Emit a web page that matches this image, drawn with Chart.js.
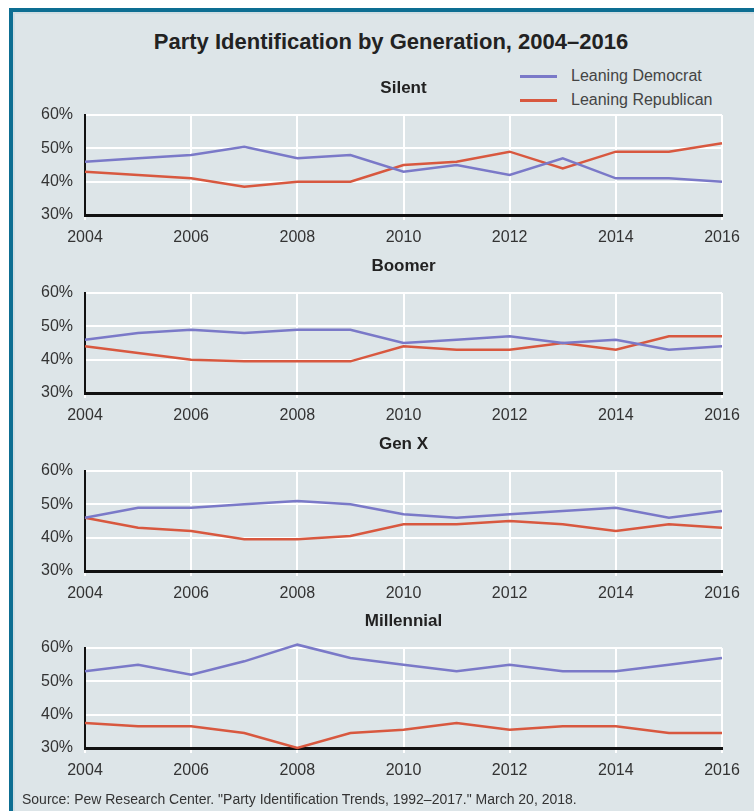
<!DOCTYPE html>
<html>
<head>
<meta charset="utf-8">
<script src="https://cdn.jsdelivr.net/npm/chart.js@4.4.1/dist/chart.umd.min.js"></script>
<style>
  body { margin: 0; width: 754px; height: 811px; background: #fff; position: relative; overflow: hidden;
         font-family: 'Liberation Sans', Arial, sans-serif; }
  #frame { position: absolute; left: 9px; top: 8px; width: 760px; height: 820px;
           border-top: 4px solid #0d6e92; border-left: 4px solid #0d6e92;
           background: #dde5e8; box-shadow: inset 2px 2px 0 #cfdde2; }
  canvas { position: absolute; left: 0; }
  #title { position: absolute; top: 29px; left: 25px; width: 732px; text-align: center;
           font-size: 22px; font-weight: bold; color: #222; }
  .leg { position: absolute; left: 520px; font-size: 16px; color: #444; }
  .leg span { display: inline-block; width: 37px; height: 3px; vertical-align: middle; margin-right: 14px; }
  #source { position: absolute; left: 22px; top: 791px; font-size: 14px; color: #333; }
</style>
</head>
<body>
<div id="frame"></div>
<div id="title">Party Identification by Generation, 2004–2016</div>
<div class="leg" style="top:67px"><span style="background:#7a79c8"></span>Leaning Democrat</div>
<div class="leg" style="top:91px"><span style="background:#d8583f"></span>Leaning Republican</div>
<canvas id="silent" width="754" height="190" style="top:70px"></canvas>
<canvas id="boomer" width="754" height="190" style="top:248px"></canvas>
<canvas id="genx" width="754" height="190" style="top:426px"></canvas>
<canvas id="millennial" width="754" height="190" style="top:603px"></canvas>
<div id="source">Source: Pew Research Center. "Party Identification Trends, 1992–2017." March 20, 2018.</div>
<script>
const years = [2004, 2005, 2006, 2007, 2008, 2009, 2010, 2011, 2012, 2013, 2014, 2015, 2016];

const silentDem = [46, 47, 48, 50.5, 47, 48, 43, 45, 42, 47, 41, 41, 40];
const silentRep = [43, 42, 41, 38.5, 40, 40, 45, 46, 49, 44, 49, 49, 51.5];

const boomerDem = [46, 48, 49, 48, 49, 49, 45, 46, 47, 45, 46, 43, 44];
const boomerRep = [44, 42, 40, 39.5, 39.5, 39.5, 44, 43, 43, 45, 43, 47, 47];

const genxDem = [46, 49, 49, 50, 51, 50, 47, 46, 47, 48, 49, 46, 48];
const genxRep = [46, 43, 42, 39.5, 39.5, 40.5, 44, 44, 45, 44, 42, 44, 43];

const millDem = [53, 55, 52, 56, 61, 57, 55, 53, 55, 53, 53, 55, 57];
const millRep = [37.5, 36.5, 36.5, 34.5, 30, 34.5, 35.5, 37.5, 35.5, 36.5, 36.5, 34.5, 34.5];

const yTicks = ['30%', '40%', '50%', '60%'];

const demColor = '#7a79c8';
const repColor = '#d8583f';

Chart.defaults.font.family = "'Liberation Sans', Arial, sans-serif";
Chart.defaults.color = '#333';

// pair the years with a series
const points = (vals) => vals.map((v, i) => ({ x: years[i], y: v }));

function createPanel(id, name, dem, rep) {
  new Chart(document.getElementById(id), {
    type: 'line',
    data: {
      datasets: [
        { label: 'Leaning Democrat', data: points(dem), borderColor: demColor },
        { label: 'Leaning Republican', data: points(rep), borderColor: repColor },
      ],
    },
    options: {
      responsive: false,
      animation: false,
      events: [],
      elements: {
        line: { borderWidth: 2.5, tension: 0 },
        point: { radius: 0 },
      },
      datasets: { line: { clip: false } },
      layout: { padding: { left: 0, right: 32, top: 0, bottom: 4.8 } },
      scales: {
        x: {
          type: 'linear',
          min: 2004,
          max: 2016,
          ticks: {
            stepSize: 2,
            padding: 8,
            maxRotation: 0,
            font: { size: 16 },
            color: '#333',
            callback: (v) => String(v),
          },
          grid: { color: '#fff', lineWidth: 2, tickLength: 5 },
          border: { color: '#111', width: 3 },
        },
        y: {
          min: 30,
          max: 60,
          afterFit: (s) => { s.width = 85; },
          ticks: {
            stepSize: 10,
            padding: 12,
            font: { size: 16 },
            color: '#333',
            callback: (v) => yTicks[(v - 30) / 10],
          },
          grid: {
            drawTicks: false,
            lineWidth: 2,
            color: (c) => (c.tick && c.tick.value === 30 ? 'rgba(0,0,0,0)' : '#fff'),
          },
          border: { color: '#111', width: 2 },
        },
      },
      plugins: {
        legend: { display: false },
        tooltip: { enabled: false },
        title: {
          display: true,
          text: name,
          fullSize: false,
          color: '#222',
          font: { size: 17, weight: 'bold' },
          padding: { top: 8, bottom: 16.6 },
        },
      },
    },
  });
}

createPanel('silent', 'Silent', silentDem, silentRep);
createPanel('boomer', 'Boomer', boomerDem, boomerRep);
createPanel('genx', 'Gen X', genxDem, genxRep);
createPanel('millennial', 'Millennial', millDem, millRep);
</script>
</body>
</html>
